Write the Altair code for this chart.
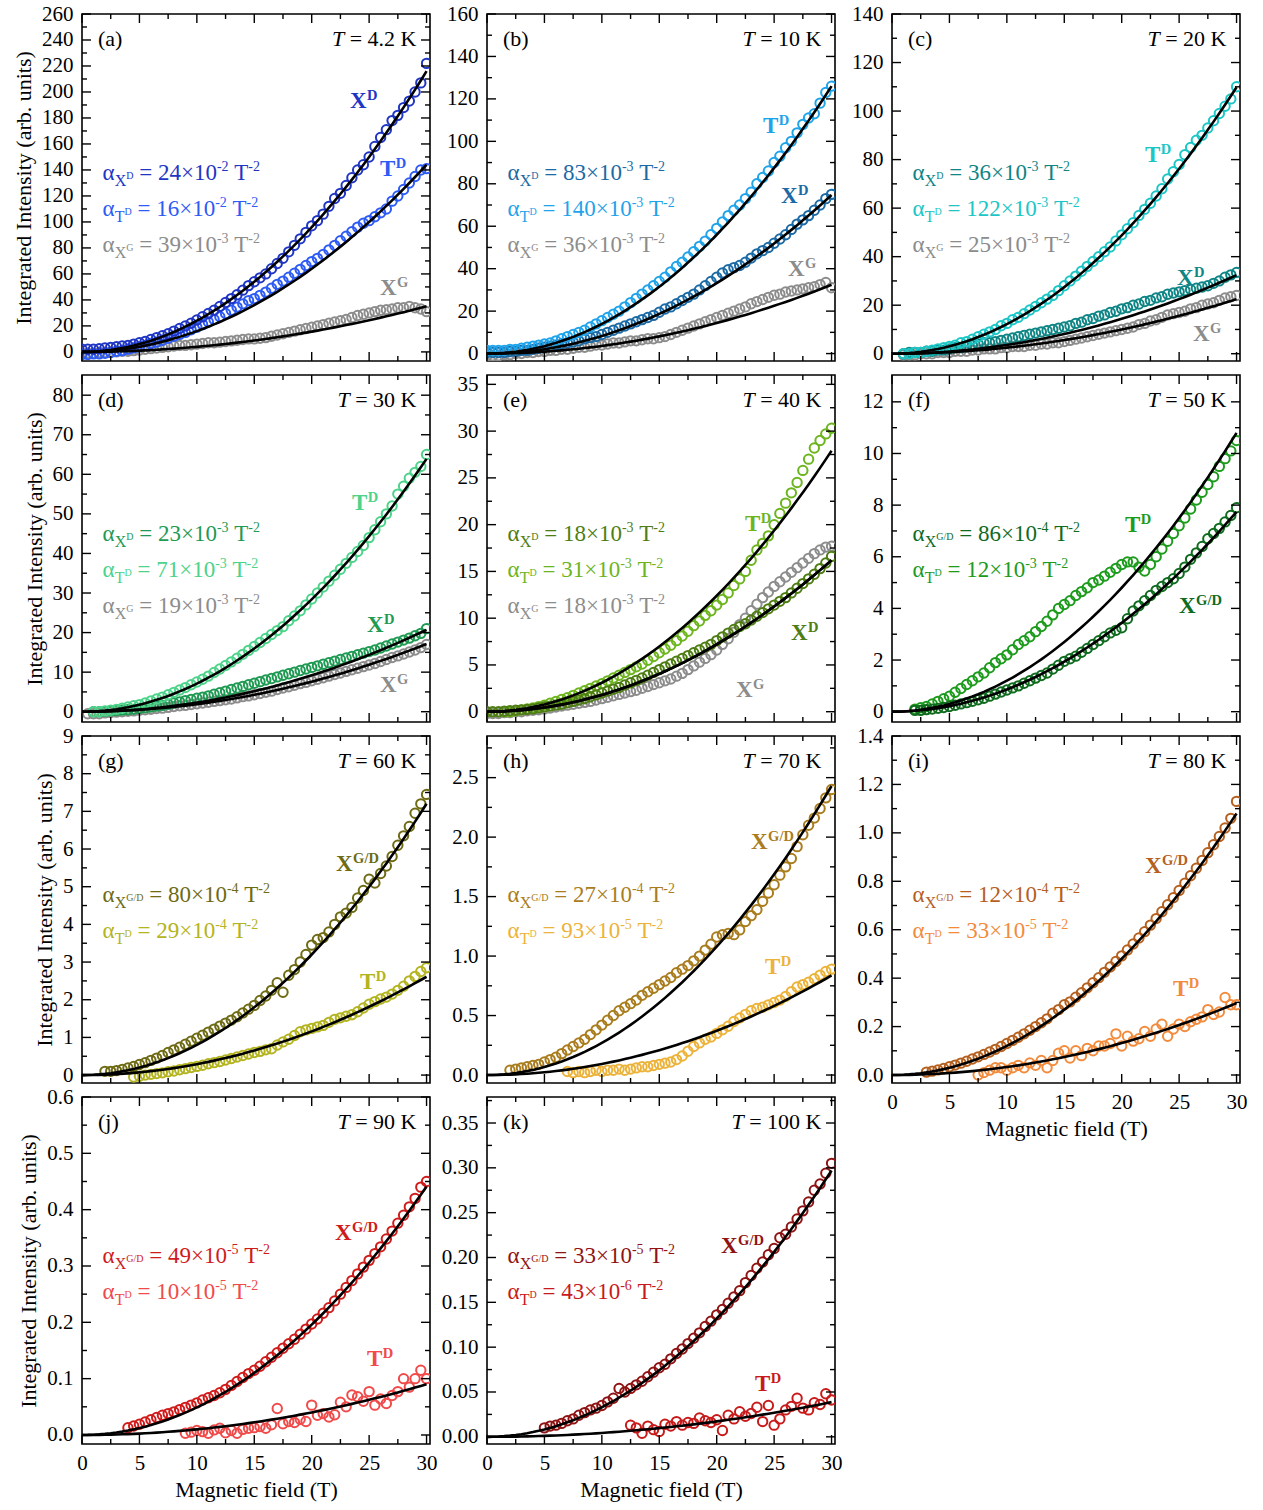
import altair as alt
import pandas as pd

FONT = "Liberation Serif"
W, H = 348, 347
GRAY = "#8c8c8c"
YTITLE = "Integrated Intensity (arb. units)"
XTITLE = "Magnetic field (T)"

# ---------------- data ----------------
B_GRID = [0, 0.5, 1, 1.5, 2, 2.5, 3, 3.5, 4, 4.5, 5, 5.5, 6, 6.5, 7, 7.5, 8, 8.5, 9, 9.5,
          10, 10.5, 11, 11.5, 12, 12.5, 13, 13.5, 14, 14.5, 15, 15.5, 16, 16.5, 17, 17.5, 18, 18.5, 19, 19.5,
          20, 20.5, 21, 21.5, 22, 22.5, 23, 23.5, 24, 24.5, 25, 25.5, 26, 26.5, 27, 27.5, 28, 28.5, 29, 29.5, 30]
X_DOMAIN = [0, 30.3]
X_MAJOR = [0, 5, 10, 15, 20, 25, 30]
X_MINOR = [2.5, 7.5, 12.5, 17.5, 22.5, 27.5]

# (a) T = 4.2 K
A_XD = [2, 2, 2, 2.5, 3, 3.5, 4, 4.5, 5, 6, 7, 8, 9.5, 11, 12.5, 14, 16, 18, 20, 22,
        24.5, 27, 29.5, 32, 35, 38, 41, 44, 47.5, 51, 54, 57, 60, 64, 68, 72, 77, 82, 87, 92,
        97, 101, 106, 112, 118, 122, 128, 134, 140, 144, 150, 158, 165, 171, 178, 182, 188, 193, 200, 207, 222]
A_TD = [-2, -2, -1.5, -1.5, -1, -0.5, 0.5, 1, 2, 3, 4, 5, 6.5, 7.5, 9, 10.5, 12, 13.5, 15, 17,
        19, 21, 23, 25, 27, 29.5, 32, 34.5, 37, 39.5, 41, 43.5, 46, 49, 52, 54.5, 57.5, 60.5, 63.5, 66.5,
        69.5, 72, 75, 78.5, 82, 85.5, 89, 92.5, 96, 99, 101, 104, 107, 110, 116, 120, 125, 130, 135, 140, 141]
A_XG = [-1, -1, -1, -0.5, -0.5, 0, 0, 0.5, 0.5, 1, 1.5, 2, 2.5, 3, 3.5, 4, 4.5, 5, 5, 5.5,
        6, 6.5, 7, 7, 7.5, 8, 8.5, 9, 9.5, 10, 10, 10.5, 11, 12, 13, 14, 15, 16, 17, 18,
        19, 20, 21, 22, 23, 24, 25, 26.5, 28, 29, 30, 31, 32, 32.5, 33, 34, 34, 35, 34, 33, 31]
A_YMAJ = [0, 20, 40, 60, 80, 100, 120, 140, 160, 180, 200, 220, 240, 260]
A_YMIN = [10, 30, 50, 70, 90, 110, 130, 150, 170, 190, 210, 230, 250]

# (b) T = 10 K
B_TD = [1.5, 1.5, 1.5, 1.5, 2, 2, 2.5, 3, 3.5, 4, 4.5, 5, 6, 7, 8, 9, 10, 11, 12.5, 14,
        15.5, 17, 18.5, 20, 22, 24, 26, 28, 30, 32, 34, 36, 38.5, 41, 43, 45.5, 48, 50.5, 53, 56,
        59, 62, 65, 67.5, 70, 73, 76, 80, 83, 86, 90, 93, 97, 100, 104, 108, 111, 113, 118, 123, 126]
B_XD = [0.5, 0.5, 0.5, 0.5, 1, 1, 1.5, 1.5, 2, 2.5, 3, 3.5, 4, 4.5, 5, 5.5, 6, 7, 7.5, 8,
        9, 10, 11, 12, 13, 14, 15, 16, 17, 18, 19.5, 21, 22, 23.5, 25, 26.5, 28, 30, 32, 34,
        36, 38, 39.5, 40.5, 41.5, 43, 45, 47, 48.5, 50, 52, 54, 56, 58.5, 61, 63, 65, 67.5, 70, 73, 75]
B_XG = [-1, -1, -1, -0.5, -0.5, 0, 0, 0.5, 0.5, 1, 1, 1.5, 1.5, 2, 2, 2.5, 3, 3, 3.5, 4,
        4, 4.5, 5, 5, 5.5, 6, 6, 6.5, 7, 7, 7.5, 8, 9, 10, 11, 12, 13, 14, 15, 16,
        17, 18, 19, 20, 21, 22, 23.5, 24.5, 25.5, 26.5, 27.5, 28, 29, 29.5, 30, 30.5, 31, 31.5, 32.5, 33.5, 31]
B_YMAJ = [0, 20, 40, 60, 80, 100, 120, 140, 160]
B_YMIN = [10, 30, 50, 70, 90, 110, 130, 150]

# (c) T = 20 K
C_TD = [0, 0, 0.5, 0.5, 1, 1.5, 2, 2.5, 3, 3.5, 4.5, 5, 6, 7, 8, 9, 10, 11.5, 12.5, 14,
        15, 16.5, 18, 19.5, 21, 22.5, 24, 26, 28, 30, 32, 34, 36, 38, 40, 42, 44, 46.5, 49, 51.5,
        54, 57, 59.5, 62, 65, 68, 72, 75, 78, 82, 85, 88, 90, 93, 96, 99, 102, 105, 110]
C_XD = [0, 0.5, 0.5, 0.5, 1, 1, 1.5, 1.5, 2, 2.5, 2.5, 3, 3.5, 4, 4.5, 4.5, 5, 5.5, 6, 6.5,
        7, 7.5, 8, 8.5, 9, 9.5, 10, 10.5, 11, 11.5, 12.5, 13, 14, 14.5, 15.5, 16, 17, 17.5, 18.5, 19,
        20, 20.5, 21.5, 22, 23, 23.5, 24.5, 25, 25.5, 26, 26.5, 27, 27.5, 28, 29, 30, 31.5, 32.5, 33.5]
C_XG = [-0.5, -0.5, -0.5, 0, 0, 0, 0.5, 0.5, 0.5, 1, 1, 1, 1.5, 1.5, 2, 2, 2, 2.5, 2.5, 3,
        3, 3, 3.5, 3.5, 4, 4, 4.5, 4.5, 5, 5.5, 6, 6.5, 7, 7.5, 8, 8.5, 9, 9.5, 10, 10.5,
        11, 12, 12.5, 13.5, 14, 15, 16, 16.5, 17, 17.5, 18.5, 19, 20, 20.5, 21, 22, 23, 23.5, 24]
C_YMAJ = [0, 20, 40, 60, 80, 100, 120, 140]
C_YMIN = [10, 30, 50, 70, 90, 110, 130]

# (d) T = 30 K
D_TD = [0, 0, 0.2, 0.4, 0.6, 0.9, 1.2, 1.5, 1.8, 2.2, 2.7, 3.2, 3.7, 4.3, 4.9, 5.5, 6.1, 6.8, 7.5, 8.2,
        9, 9.9, 10.8, 11.7, 12.6, 13.5, 14.5, 15.5, 16.5, 17.5, 18.5, 19.5, 20.5, 21.5, 23, 24.2, 25.5, 27, 28.5, 30,
        31.5, 33, 34.5, 36, 37.5, 39, 40.5, 42, 44, 46, 48, 50, 52, 55, 57, 59, 60.5, 62, 65]
D_XD = [0, 0, 0.1, 0.2, 0.3, 0.4, 0.5, 0.6, 0.8, 1, 1.2, 1.4, 1.6, 1.9, 2.2, 2.5, 2.8, 3.1, 3.4, 3.7,
        4, 4.4, 4.8, 5.2, 5.6, 6, 6.4, 6.8, 7.2, 7.6, 8, 8.4, 8.8, 9.2, 9.6, 10, 10.4, 10.8, 11.2, 11.6,
        12, 12.4, 12.8, 13.2, 13.6, 14, 14.4, 14.8, 15.2, 15.6, 16.1, 16.6, 17.1, 17.6, 18.1, 18.6, 19.2, 19.8, 21]
D_XG = [-0.5, -0.5, -0.5, -0.3, -0.2, -0.1, 0, 0.1, 0.2, 0.4, 0.5, 0.6, 0.8, 0.9, 1.1, 1.3, 1.5, 1.6, 1.8, 2,
        2.2, 2.4, 2.6, 2.8, 3, 3.2, 3.5, 3.8, 4, 4.3, 4.6, 4.9, 5.2, 5.6, 6, 6.3, 6.7, 7.1, 7.4, 7.8,
        8.2, 8.6, 9, 9.4, 9.8, 10.2, 10.6, 11, 11.4, 11.8, 12.2, 12.7, 13.2, 13.7, 14.1, 14.6, 15.1, 15.6, 16.2, 17]
D_YMAJ = [0, 10, 20, 30, 40, 50, 60, 70, 80]
D_YMIN = [5, 15, 25, 35, 45, 55, 65, 75]

# (e) T = 40 K
E_TD = [0, 0, 0.1, 0.2, 0.3, 0.4, 0.55, 0.7, 0.9, 1.1, 1.3, 1.5, 1.75, 2, 2.25, 2.5, 2.75, 3, 3.3, 3.6,
        3.9, 4.2, 4.5, 4.8, 5.1, 5.5, 5.9, 6.3, 6.7, 7.1, 7.6, 8.1, 8.6, 9.2, 9.7, 10.3, 10.8, 11.4, 12, 12.7,
        13.5, 14.2, 15, 16.2, 17.3, 18, 18.8, 20, 21.2, 22.3, 23.4, 24.5, 25.8, 27, 28.2, 29, 29.7, 30.3]
E_XD = [0, 0, 0, 0.05, 0.1, 0.15, 0.2, 0.25, 0.3, 0.4, 0.5, 0.6, 0.7, 0.8, 0.95, 1.1, 1.25, 1.4, 1.6, 1.8,
        2, 2.2, 2.4, 2.6, 2.85, 3.1, 3.35, 3.6, 3.9, 4.2, 4.5, 4.8, 5.1, 5.4, 5.7, 6, 6.3, 6.6, 6.9, 7.2,
        7.6, 8, 8.4, 8.8, 9.1, 9.4, 9.8, 10.2, 10.6, 11, 11.4, 11.8, 12.2, 12.7, 13.2, 13.7, 14.2, 14.7, 15.3, 15.9, 16.6]
E_XG = [-0.2, -0.2, -0.2, -0.1, -0.1, 0, 0, 0.1, 0.15, 0.2, 0.3, 0.4, 0.5, 0.6, 0.7, 0.8, 0.9, 1, 1.1, 1.25,
        1.4, 1.55, 1.7, 1.85, 2, 2.15, 2.3, 2.5, 2.7, 2.9, 3.1, 3.3, 3.5, 3.8, 4.1, 4.5, 4.9, 5.3, 5.7, 6.1,
        6.6, 7.2, 7.8, 8.5, 9.3, 10, 10.8, 11.5, 12.2, 12.8, 13.4, 13.9, 14.4, 14.9, 15.4, 15.9, 16.4, 16.9, 17.3, 17.6, 17.7]
E_YMAJ = [0, 5, 10, 15, 20, 25, 30, 35]
E_YMIN = [2.5, 7.5, 12.5, 17.5, 22.5, 27.5, 32.5]

# (f) T = 50 K
F_TD = [0.1, 0.15, 0.2, 0.3, 0.4, 0.5, 0.6, 0.75, 0.9, 1.05, 1.2, 1.35, 1.5, 1.7, 1.9, 2.05, 2.2, 2.4, 2.6, 2.75,
        2.9, 3.1, 3.3, 3.5, 3.75, 4, 4.15, 4.3, 4.5, 4.65, 4.8, 5, 5.1, 5.25, 5.4, 5.55, 5.7, 5.8, 5.8, 5.6,
        5.45, 5.7, 6, 6.3, 6.6, 6.9, 7.2, 7.5, 7.85, 8.2, 8.5, 8.8, 9.1, 9.5, 9.8, 10.1, 10.5]
F_XGD = [0.05, 0.05, 0.08, 0.1, 0.13, 0.16, 0.2, 0.25, 0.3, 0.35, 0.4, 0.46, 0.52, 0.6, 0.68, 0.76, 0.84, 0.92, 1, 1.1,
         1.2, 1.3, 1.4, 1.5, 1.65, 1.8, 1.95, 2.05, 2.15, 2.3, 2.45, 2.6, 2.75, 2.9, 3.05, 3.15, 3.25, 3.6, 3.9, 4.1,
         4.3, 4.5, 4.7, 4.85, 5, 5.15, 5.35, 5.6, 5.9, 6.15, 6.4, 6.7, 6.9, 7.1, 7.35, 7.6, 7.9]
F_YMAJ = [0, 2, 4, 6, 8, 10, 12]
F_YMIN = [1, 3, 5, 7, 9, 11]

# (g) T = 60 K
G_XGD = [0.1, 0.1, 0.12, 0.15, 0.19, 0.23, 0.28, 0.33, 0.39, 0.45, 0.52, 0.6, 0.67, 0.74, 0.82, 0.9, 0.98, 1.06, 1.14, 1.22,
         1.3, 1.38, 1.46, 1.55, 1.65, 1.75, 1.85, 1.98, 2.1, 2.25, 2.45, 2.2, 2.65, 2.8, 3, 3.2, 3.45, 3.6, 3.65, 3.8,
         4, 4.2, 4.3, 4.45, 4.7, 4.9, 5.2, 5.1, 5.35, 5.55, 5.8, 6.1, 6.35, 6.6, 6.95, 7.2, 7.45]
G_TD = [-0.05, -0.03, 0, 0.02, 0.04, 0.06, 0.09, 0.11, 0.14, 0.17, 0.2, 0.23, 0.26, 0.3, 0.33, 0.36, 0.4, 0.44, 0.48, 0.52,
        0.56, 0.6, 0.63, 0.67, 0.7, 0.8, 0.88, 0.95, 1.05, 1.15, 1.2, 1.24, 1.28, 1.32, 1.4, 1.48, 1.52, 1.56, 1.6, 1.68,
        1.78, 1.88, 1.95, 2.02, 2.07, 2.15, 2.25, 2.36, 2.5, 2.62, 2.75, 2.85]
G_YMAJ = [0, 1, 2, 3, 4, 5, 6, 7, 8, 9]
G_YMIN = [0.5, 1.5, 2.5, 3.5, 4.5, 5.5, 6.5, 7.5, 8.5]

# (h) T = 70 K
H_XGD = [0.04, 0.05, 0.06, 0.07, 0.08, 0.09, 0.11, 0.13, 0.15, 0.18, 0.21, 0.24, 0.27, 0.3, 0.34, 0.38, 0.42, 0.46, 0.5, 0.54,
         0.57, 0.6, 0.63, 0.67, 0.7, 0.73, 0.76, 0.79, 0.82, 0.86, 0.89, 0.92, 0.96, 1, 1.05, 1.1, 1.16, 1.18, 1.19, 1.18,
         1.22, 1.29, 1.34, 1.39, 1.46, 1.53, 1.6, 1.68, 1.75, 1.82, 1.92, 2.02, 2.1, 2.16, 2.24, 2.33, 2.4]
H_TD = [0.03, 0.02, 0.03, 0.02, 0.03, 0.04, 0.03, 0.04, 0.04, 0.05, 0.04, 0.05, 0.06, 0.07, 0.07, 0.08, 0.09, 0.1, 0.11, 0.13,
        0.16, 0.2, 0.24, 0.27, 0.3, 0.32, 0.35, 0.38, 0.41, 0.45, 0.48, 0.51, 0.54, 0.56, 0.57, 0.59, 0.61, 0.63, 0.66, 0.7,
        0.74, 0.76, 0.78, 0.81, 0.84, 0.87, 0.89]
H_YMAJ = [0, 0.5, 1.0, 1.5, 2.0, 2.5]
H_YMIN = [0.25, 0.75, 1.25, 1.75, 2.25, 2.75]

# (i) T = 80 K
I_XGD = [0.012, 0.016, 0.021, 0.027, 0.034, 0.041, 0.049, 0.057, 0.066, 0.075, 0.085, 0.095, 0.106, 0.118, 0.13, 0.143, 0.156, 0.17, 0.185, 0.2,
         0.216, 0.232, 0.255, 0.27, 0.29, 0.302, 0.321, 0.34, 0.36, 0.381, 0.402, 0.424, 0.446, 0.469, 0.492, 0.516, 0.541, 0.566, 0.592, 0.619,
         0.646, 0.674, 0.703, 0.732, 0.762, 0.792, 0.823, 0.854, 0.886, 0.918, 0.951, 0.985, 1.02, 1.06, 1.13]
I_TD = [0, 0.01, 0.02, 0.03, 0.03, 0.02, 0.03, 0.04, 0.03, 0.05, 0.04, 0.06, 0.03, 0.06, 0.09, 0.1, 0.07, 0.1, 0.08, 0.11,
        0.1, 0.12, 0.12, 0.13, 0.17, 0.12, 0.16, 0.14, 0.15, 0.18, 0.16, 0.19, 0.21, 0.16, 0.19, 0.21, 0.2, 0.22, 0.23, 0.24,
        0.27, 0.25, 0.26, 0.32, 0.29, 0.29]
I_YMAJ = [0, 0.2, 0.4, 0.6, 0.8, 1.0, 1.2, 1.4]
I_YMIN = [0.1, 0.3, 0.5, 0.7, 0.9, 1.1, 1.3]

# (j) T = 90 K
J_XGD = [0.013, 0.016, 0.019, 0.023, 0.027, 0.031, 0.035, 0.038, 0.041, 0.045, 0.049, 0.053, 0.057, 0.062, 0.066, 0.07, 0.075, 0.081, 0.088, 0.095,
         0.102, 0.109, 0.115, 0.122, 0.13, 0.138, 0.146, 0.154, 0.162, 0.17, 0.179, 0.188, 0.197, 0.206, 0.216, 0.226, 0.238, 0.25, 0.262, 0.274,
         0.286, 0.298, 0.31, 0.322, 0.334, 0.348, 0.362, 0.376, 0.39, 0.405, 0.42, 0.44, 0.45]
J_TD = [0.003, 0.005, 0.008, 0.006, 0.003, 0.009, 0.012, 0.004, 0.008, 0.003, 0.01, 0.012, 0.013, 0.015, 0.012, 0.018, 0.047, 0.02, 0.024, 0.022,
        0.028, 0.024, 0.053, 0.035, 0.038, 0.032, 0.036, 0.058, 0.05, 0.071, 0.068, 0.06, 0.077, 0.053, 0.064, 0.056, 0.07, 0.077, 0.1, 0.085,
        0.1, 0.115, 0.1]
J_YMAJ = [0, 0.1, 0.2, 0.3, 0.4, 0.5, 0.6]
J_YMIN = [0.05, 0.15, 0.25, 0.35, 0.45, 0.55]

# (k) T = 100 K
K_XGD = [0.01, 0.012, 0.013, 0.015, 0.018, 0.02, 0.024, 0.027, 0.03, 0.032, 0.035, 0.039, 0.043, 0.054, 0.05, 0.054, 0.058, 0.062, 0.067, 0.072,
         0.077, 0.081, 0.087, 0.093, 0.098, 0.104, 0.11, 0.116, 0.123, 0.129, 0.136, 0.142, 0.149, 0.156, 0.163, 0.172, 0.18, 0.188, 0.195, 0.203,
         0.21, 0.222, 0.226, 0.234, 0.243, 0.252, 0.262, 0.275, 0.282, 0.294, 0.305]
K_TD = [0.013, 0.01, 0.004, 0.012, 0.008, 0.006, 0.014, 0.012, 0.017, 0.013, 0.016, 0.015, 0.021, 0.018, 0.016, 0.019, 0.007, 0.024, 0.02, 0.028,
        0.023, 0.026, 0.033, 0.017, 0.035, 0.013, 0.02, 0.03, 0.034, 0.043, 0.032, 0.03, 0.038, 0.036, 0.048, 0.041]
K_YMAJ = [0, 0.05, 0.10, 0.15, 0.20, 0.25, 0.30, 0.35]
K_YMIN = [0.025, 0.075, 0.125, 0.175, 0.225, 0.275, 0.325, 0.375]

PANELS = [
    dict(tag="(a)", temp="4.2", ydom=[-7, 260], ymaj=A_YMAJ, ymin=A_YMIN, yfmt="d",
         series=[("XG", A_XG, GRAY), ("TD", A_TD, "#2d5bf5"), ("XD", A_XD, "#1f35c4")],
         alphas=[("XD", 24, -2), ("TD", 16, -2), ("XG", 39, -3)],
         labels=[("XD", 268, 94), ("TD", 298, 162), ("XG", 298, 281)]),
    dict(tag="(b)", temp="10", ydom=[-3.5, 160], ymaj=B_YMAJ, ymin=B_YMIN, yfmt="d",
         series=[("XG", B_XG, GRAY), ("XD", B_XD, "#1b6aa5"), ("TD", B_TD, "#1fa3ea")],
         alphas=[("XD", 83, -3), ("TD", 140, -3), ("XG", 36, -3)],
         labels=[("TD", 276, 119), ("XD", 294, 189), ("XG", 301, 262)]),
    dict(tag="(c)", temp="20", ydom=[-3, 140], ymaj=C_YMAJ, ymin=C_YMIN, yfmt="d",
         series=[("XG", C_XG, GRAY), ("XD", C_XD, "#0f8585"), ("TD", C_TD, "#1cc6c6")],
         alphas=[("XD", 36, -3), ("TD", 122, -3), ("XG", 25, -3)],
         labels=[("TD", 253, 148), ("XD", 285, 271), ("XG", 301, 327)]),
    dict(tag="(d)", temp="30", ydom=[-2.6, 85.1], ymaj=D_YMAJ, ymin=D_YMIN, yfmt="d",
         series=[("XG", D_XG, GRAY), ("XD", D_XD, "#1f9a52"), ("TD", D_TD, "#4dd38a")],
         alphas=[("XD", 23, -3), ("TD", 71, -3), ("XG", 19, -3)],
         labels=[("TD", 270, 135), ("XD", 285, 257), ("XG", 298, 317)]),
    dict(tag="(e)", temp="40", ydom=[-1.1, 36], ymaj=E_YMAJ, ymin=E_YMIN, yfmt="d",
         series=[("XG", E_XG, GRAY), ("TD", E_TD, "#6db51e"), ("XD", E_XD, "#4e7d14")],
         alphas=[("XD", 18, -3), ("TD", 31, -3), ("XG", 18, -3)],
         labels=[("TD", 258, 156), ("XD", 304, 265), ("XG", 249, 322)]),
    dict(tag="(f)", temp="50", ydom=[-0.4, 13.04], ymaj=F_YMAJ, ymin=F_YMIN, yfmt="d",
         series=[("TD", F_TD, "#1d9b1d"), ("XGD", F_XGD, "#0f6b1e")],
         alphas=[("XGD", 86, -4), ("TD", 12, -3)],
         labels=[("TD", 233, 157), ("XGD", 287, 238)]),
    dict(tag="(g)", temp="60", ydom=[-0.21, 9], ymaj=G_YMAJ, ymin=G_YMIN, yfmt="d",
         series=[("TD", G_TD, "#b4b421"), ("XGD", G_XGD, "#6e6b14")],
         alphas=[("XGD", 80, -4), ("TD", 29, -4)],
         labels=[("XGD", 254, 135), ("TD", 278, 253)]),
    dict(tag="(h)", temp="70", ydom=[-0.067, 2.85], ymaj=H_YMAJ, ymin=H_YMIN, yfmt=".1f",
         series=[("TD", H_TD, "#ecb33a"), ("XGD", H_XGD, "#a97d1e")],
         alphas=[("XGD", 27, -4), ("TD", 93, -5)],
         labels=[("XGD", 264, 113), ("TD", 278, 238)]),
    dict(tag="(i)", temp="80", ydom=[-0.033, 1.4], ymaj=I_YMAJ, ymin=I_YMIN, yfmt=".1f",
         series=[("TD", I_TD, "#f28b3c"), ("XGD", I_XGD, "#b5601e")],
         alphas=[("XGD", 12, -4), ("TD", 33, -5)],
         labels=[("XGD", 253, 137), ("TD", 281, 260)], xaxis=True),
    dict(tag="(j)", temp="90", ydom=[-0.016, 0.6], ymaj=J_YMAJ, ymin=J_YMIN, yfmt=".1f",
         series=[("TD", J_TD, "#f04a4a"), ("XGD", J_XGD, "#d01b1b")],
         alphas=[("XGD", 49, -5), ("TD", 10, -5)],
         labels=[("XGD", 253, 143), ("TD", 285, 269)], xaxis=True),
    dict(tag="(k)", temp="100", ydom=[-0.008, 0.379], ymaj=K_YMAJ, ymin=K_YMIN, yfmt=".2f",
         series=[("TD", K_TD, "#c81a1a"), ("XGD", K_XGD, "#8f1313")],
         alphas=[("XGD", 33, -5), ("TD", 43, -6)],
         labels=[("XGD", 234, 156), ("TD", 268, 294)], xaxis=True),
]

SUBS = {"XD": ("X", "D"), "TD": ("T", "D"), "XG": ("X", "G"), "XGD": ("X", "G/D")}

REG = {" ": 0.25, "=": 0.564, "×": 0.564, "-": 0.333, ".": 0.25, "/": 0.278, "T": 0.611,
       "X": 0.722, "D": 0.722, "G": 0.722, "K": 0.722, "α": 0.53, "(": 0.333, ")": 0.333}
BOLD = {"X": 0.722, "T": 0.667, "D": 0.722, "G": 0.778, "/": 0.278}


def tw(s, size, bold=False):
    tot = 0.0
    for ch in s:
        if ch.isdigit():
            tot += 0.5
        elif bold and ch in BOLD:
            tot += BOLD[ch]
        else:
            tot += REG.get(ch, 0.5)
    return tot * size


def build_text(p):
    x0, x1 = X_DOMAIN
    y0, y1 = p["ydom"]
    groups = {"nl": [], "bl": [], "nr": [], "ir": []}

    def add(g, px, py, text, size, color):
        groups[g].append({"B": x0 + px / W * (x1 - x0), "V": y1 - py / H * (y1 - y0),
                          "t": text, "fs": size, "col": color})

    add("nl", 16, 32, p["tag"], 22, "black")
    rest = "= " + p["temp"] + " K"
    xr = W - 13.5
    add("nr", xr, 32, rest, 22, "black")
    add("ir", xr - tw(rest, 22) - 0.25 * 22, 32, "T", 22, "black")
    colors = {k: c for k, _, c in p["series"]}
    for i, (key, mant, ex) in enumerate(p["alphas"]):
        main, sup = SUBS[key]
        col = colors[key]
        yb = 166 + 36 * i
        segs = [("α", 23, 0), (main, 16, 6), (sup, 10, -1), (" = %d×10" % mant, 23, 0),
                (str(ex), 14, -9.5), (" T", 23, 0), ("-2", 14, -9.5)]
        x = 20.5
        for text, size, dy in segs:
            lead = len(text) - len(text.lstrip(" "))
            add("nl", x + lead * 0.25 * size, yb + dy, text.strip(" "), size, col)
            x += tw(text, size)
    for key, lx, ly in p["labels"]:
        main, sup = SUBS[key]
        col = colors[key]
        add("bl", lx, ly, main, 23, col)
        add("bl", lx + tw(main, 23, True) + 0.5, ly - 8.5, sup, 14.5, col)
    return groups


def panel_chart(idx, p):
    xs = alt.Scale(domain=X_DOMAIN, nice=False, zero=False)
    ys = alt.Scale(domain=p["ydom"], nice=False, zero=False)
    y0, y1 = p["ydom"]

    yaxis = alt.Axis(values=p["ymaj"], format=p["yfmt"], ticks=False, domain=False, grid=False,
                     labelFont=FONT, labelFontSize=21, labelColor="black", labelPadding=9,
                     labelFlush=False, labelOverlap=False,
                     title=(YTITLE if idx % 3 == 0 else ""),
                     titleFont=FONT, titleFontSize=22, titleFontWeight="normal",
                     titleColor="black", titlePadding=6)
    if p.get("xaxis"):
        xaxis = alt.Axis(values=X_MAJOR, format="d", ticks=False, domain=False, grid=False,
                         labelFont=FONT, labelFontSize=21, labelColor="black", labelPadding=8,
                         labelFlush=False, labelOverlap=False, title=XTITLE,
                         titleFont=FONT, titleFontSize=22, titleFontWeight="normal",
                         titleColor="black", titlePadding=6)
    else:
        xaxis = None

    def X():
        return alt.X("B:Q", scale=xs, axis=xaxis)

    def Y():
        return alt.Y("V:Q", scale=ys, axis=yaxis)

    layers = []
    # data points
    rows = []
    for key, vals, col in p["series"]:
        bs = B_GRID[len(B_GRID) - len(vals):]
        for b, v in zip(bs, vals):
            rows.append({"B": b, "V": v, "col": col, "s": key})
    pts = alt.Chart(pd.DataFrame(rows)).mark_point(
        filled=False, size=88, strokeWidth=2, opacity=1, clip=True).encode(
        x=X(), y=Y(), color=alt.Color("col:N", scale=None))
    layers.append(pts)

    # fitted alpha*B^2 curves
    frows = []
    for key, mant, ex in p["alphas"]:
        a = mant * 10.0 ** ex
        for b in B_GRID:
            frows.append({"B": b, "V": a * b * b, "s": key})
    layers.append(alt.Chart(pd.DataFrame(frows)).mark_line(
        color="black", strokeWidth=2.6, clip=True).encode(x=X(), y=Y(), detail="s:N"))

    # inward ticks
    for vals, ln in ((p["ymaj"], 9), (p["ymin"], 5)):
        df = pd.DataFrame({"V": [v for v in vals if y0 <= v <= y1]})
        layers.append(alt.Chart(df).mark_rule(color="black", strokeWidth=1.4).encode(
            y=Y(), x=alt.value(0), x2=alt.value(ln)))
        layers.append(alt.Chart(df).mark_rule(color="black", strokeWidth=1.4).encode(
            y=Y(), x=alt.value(W - ln), x2=alt.value(W)))
    for vals, ln in ((X_MAJOR, 9), (X_MINOR, 5)):
        df = pd.DataFrame({"B": vals})
        layers.append(alt.Chart(df).mark_rule(color="black", strokeWidth=1.4).encode(
            x=X(), y=alt.value(0), y2=alt.value(ln)))
        layers.append(alt.Chart(df).mark_rule(color="black", strokeWidth=1.4).encode(
            x=X(), y=alt.value(H - ln), y2=alt.value(H)))

    # annotations
    groups = build_text(p)
    styles = {"nl": dict(align="left", fontWeight="normal", fontStyle="normal"),
              "bl": dict(align="left", fontWeight="bold", fontStyle="normal"),
              "nr": dict(align="right", fontWeight="normal", fontStyle="normal"),
              "ir": dict(align="right", fontWeight="normal", fontStyle="italic")}
    for g, rows_t in groups.items():
        if not rows_t:
            continue
        layers.append(alt.Chart(pd.DataFrame(rows_t)).mark_text(
            font=FONT, baseline="alphabetic", **styles[g]).encode(
            x=X(), y=Y(), text="t:N", size=alt.Size("fs:Q", scale=None),
            color=alt.Color("col:N", scale=None)))

    return alt.layer(*layers).properties(width=W, height=H)


charts = [panel_chart(i, p) for i, p in enumerate(PANELS)]

chart = alt.concat(*charts, columns=3, spacing={"row": 14, "column": 57},
                   bounds="flush", align="all").configure_view(
    stroke="black", strokeWidth=1.6).properties(
    padding={"left": 11, "top": 2, "right": 5, "bottom": 4}, background="white")

chart.save("out.html", embed_options={"renderer": "svg", "actions": False})
